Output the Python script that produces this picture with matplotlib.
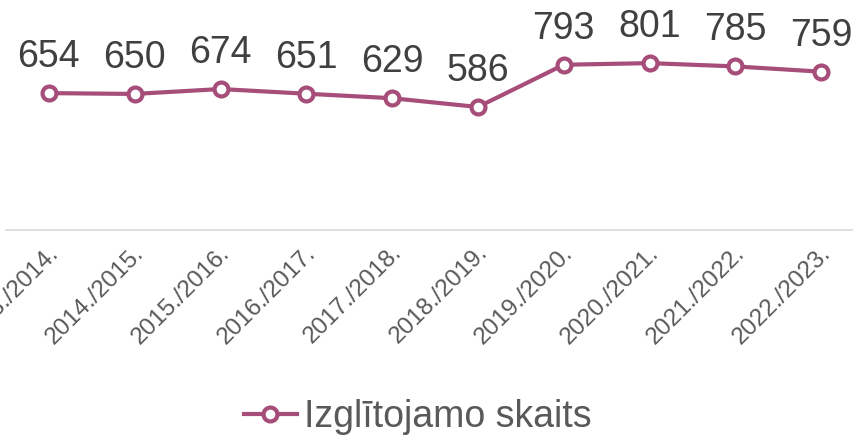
import matplotlib.pyplot as plt
from matplotlib.transforms import ScaledTranslation

plt.rcParams['font.family'] = ['Liberation Sans', 'DejaVu Sans']

years = ['2013./2014.', '2014./2015.', '2015./2016.', '2016./2017.', '2017./2018.',
         '2018./2019.', '2019./2020.', '2020./2021.', '2021./2022.', '2022./2023.']
counts = [654, 650, 674, 651, 629, 586, 793, 801, 785, 759]
series_name = 'Izglītojamo skaits'

color = '#A64D79'

fig = plt.figure(figsize=(8.54, 4.37), dpi=100)
# plot area is wider than the figure, the left label gets cut like in the source
ax = fig.add_axes([6 / 854, 207 / 437, 858 / 854, 204 / 437])

x = list(range(len(years)))
line, = ax.plot(x, counts, color=color, lw=3, marker='o', ms=10,
                mfc='white', mec=color, mew=3, label=series_name, zorder=3)

for xi, v in zip(x, counts):
    ax.annotate(str(v), (xi, v), xytext=(0, 13), textcoords='offset points',
                ha='center', va='bottom', fontsize=27, color='#404040')

ax.set_xlim(-0.5, len(years) - 0.5)
ax.set_ylim(-17, 983)
ax.set_yticks([])
for s in ['top', 'right', 'left']:
    ax.spines[s].set_visible(False)
ax.spines['bottom'].set_color('#D9D9D9')
ax.spines['bottom'].set_linewidth(1.2)

ax.set_xticks(x)
ax.set_xticklabels(years, rotation=45, ha='right', va='center',
                   rotation_mode='anchor', fontsize=17.5, color='#595959')
ax.tick_params(axis='x', length=0, pad=14)
shift = ScaledTranslation(6 / 100, 0, fig.dpi_scale_trans)
for lbl in ax.get_xticklabels():
    lbl.set_transform(lbl.get_transform() + shift)

fig.legend(handles=[line], labels=[series_name], loc='center',
           bbox_to_anchor=(418 / 854, 1 - 417 / 437), frameon=False,
           fontsize=27, labelcolor='#595959', handlelength=1.4,
           handletextpad=0.2)

fig.savefig('out.png', dpi=100)
